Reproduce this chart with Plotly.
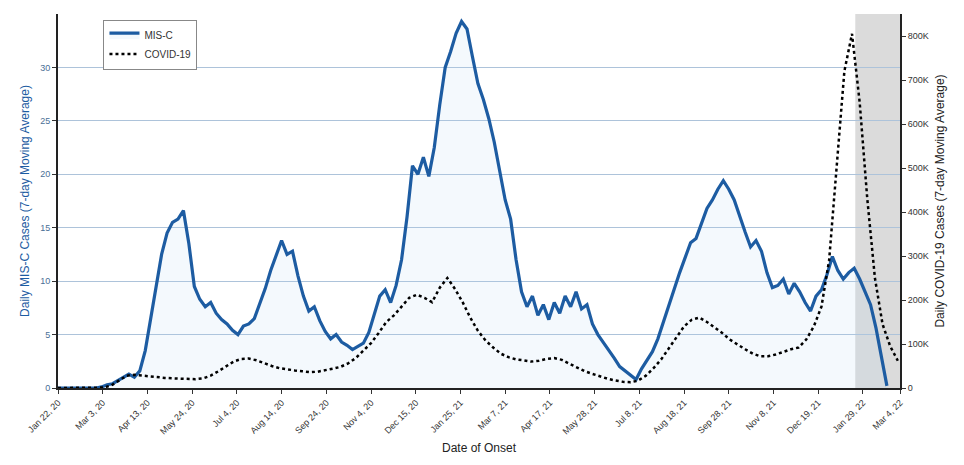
import pandas as pd
import plotly.graph_objects as go

# ---- data -------------------------------------------------------------
START = "2020-01-22"
END = "2022-03-04"
SHADE_START = "2022-01-22"

# MIS-C, 7-day moving average, one value every 5 days from START
misc_step_days = 5
misc_values = [
    0, 0, 0, 0, 0, 0, 0, 0, 0.1, 0.3,
    0.4, 0.7, 1.0, 1.3, 1.0, 1.6, 3.5, 6.5, 9.5, 12.5,
    14.5, 15.5, 15.8, 16.6, 13.5, 9.5, 8.3, 7.6, 8.0, 7.0,
    6.4, 6.0, 5.4, 5.0, 5.8, 6.0, 6.5, 7.8, 9.3, 11.0,
    12.5, 13.8, 12.5, 12.8, 10.5, 8.6, 7.2, 7.6, 6.3, 5.3,
    4.6, 5.0, 4.3, 4.0, 3.6, 3.9, 4.2, 5.2, 6.8, 8.6,
    9.2, 8.0, 9.6, 12.0, 16.0, 20.8, 20.0, 21.6, 19.8, 22.5,
    26.5, 30.0, 31.5, 33.2, 34.3, 33.6, 31.0, 28.5, 27.0, 25.2,
    23.0, 20.2, 17.6, 15.8, 12.0, 9.0, 7.6, 8.6, 6.8, 7.8,
    6.4, 8.0, 7.0, 8.6, 7.6, 9.0, 7.4, 7.8, 6.0, 5.0,
    4.3, 3.6, 2.8, 2.0, 1.6, 1.2, 0.8, 1.8, 2.6, 3.4,
    4.6, 6.2, 7.6, 9.4, 10.8, 12.2, 13.6, 14.0, 15.4, 16.8,
    17.6, 18.6, 19.4, 18.6, 17.6, 16.0, 14.6, 13.2, 13.8, 12.8,
    10.8, 9.4, 9.6, 10.2, 8.8, 9.8, 9.0, 8.0, 7.2, 8.6,
    9.2, 10.6, 12.3, 11.0, 10.2, 10.8, 11.2, 10.2, 9.0, 7.8,
    5.6, 3.0, 0.2,
]

# COVID-19, 7-day moving average (thousands), one value every 7 days from START
covid_step_days = 7
covid_thousands = [
    0, 0, 0, 0, 0, 0.1, 1, 6, 18, 28,
    30, 28, 27, 25, 23, 22, 21, 20, 20, 22,
    28, 38, 50, 60, 66, 67, 63, 56, 50, 45,
    42, 40, 38, 36, 37, 40, 44, 48, 56, 68,
    84, 102, 125, 150, 165, 185, 205, 212, 205, 195,
    228, 250, 225, 195, 160, 130, 108, 92, 78, 70,
    65, 63, 60, 62, 66, 68, 64, 55, 46, 38,
    32, 26, 21, 17, 14, 13, 17, 28, 45, 65,
    90, 115, 140, 155, 160, 150, 138, 125, 110, 98,
    88, 78, 72, 72, 76, 82, 88, 92, 110, 140,
    185, 290, 500, 720, 805, 650, 430, 250, 145, 95,
    62,
]

tick_dates = [
    "2020-01-22", "2020-03-03", "2020-04-13", "2020-05-24", "2020-07-04",
    "2020-08-14", "2020-09-24", "2020-11-04", "2020-12-15", "2021-01-25",
    "2021-03-07", "2021-04-17", "2021-05-28", "2021-07-08", "2021-08-18",
    "2021-09-28", "2021-11-08", "2021-12-19", "2022-01-29", "2022-03-04",
]
tick_labels = [
    "Jan 22, 20", "Mar 3, 20", "Apr 13, 20", "May 24, 20", "Jul 4, 20",
    "Aug 14, 20", "Sep 24, 20", "Nov 4, 20", "Dec 15, 20", "Jan 25, 21",
    "Mar 7, 21", "Apr 17, 21", "May 28, 21", "Jul 8, 21", "Aug 18, 21",
    "Sep 28, 21", "Nov 8, 21", "Dec 19, 21", "Jan 29, 22", "Mar 4, 22",
]

left_ticks = [0, 5, 10, 15, 20, 25, 30]
right_ticks = [0, 100000, 200000, 300000, 400000, 500000, 600000, 700000, 800000]
right_labels = ["0", "100K", "200K", "300K", "400K", "500K", "600K", "700K", "800K"]

# ---- build ------------------------------------------------------------
misc_dates = pd.date_range(START, periods=len(misc_values), freq=f"{misc_step_days}D")
covid_dates = pd.date_range(START, periods=len(covid_thousands), freq=f"{covid_step_days}D")
covid_values = [v * 1000 for v in covid_thousands]

BLUE = "#1d5ca2"
FONT = "Liberation Sans, Arial, sans-serif"

fig = go.Figure()

fig.add_trace(go.Scatter(
    x=misc_dates, y=misc_values, name="MIS-C", mode="lines",
    line=dict(color=BLUE, width=3.2),
    fill="tozeroy", fillcolor="rgba(175,210,238,0.14)",
    yaxis="y",
))
fig.add_trace(go.Scatter(
    x=covid_dates, y=covid_values, name="COVID-19", mode="lines",
    line=dict(color="black", width=2.5, dash="dot"),
    yaxis="y2",
))

# recent period subject to reporting delay
fig.add_vrect(x0=SHADE_START, x1=END, fillcolor="rgba(190,190,190,0.55)",
              line_width=0, layer="below")

fig.update_layout(
    width=964, height=465,
    margin=dict(l=58, r=64, t=14, b=75),
    paper_bgcolor="white", plot_bgcolor="white",
    font=dict(family=FONT, size=10, color="#333"),
    showlegend=True,
    legend=dict(
        x=0.054, y=0.985, xanchor="left", yanchor="top",
        bgcolor="white", bordercolor="#888", borderwidth=1,
        font=dict(size=10, color="#333"),
    ),
    xaxis=dict(
        type="date", range=[START, END],
        tickvals=tick_dates, ticktext=tick_labels, tickangle=-45,
        ticks="outside", ticklen=4, tickcolor="#333",
        showline=True, linecolor="#222", linewidth=2,
        showgrid=False, zeroline=False,
        tickfont=dict(size=9),
        title=dict(text="Date of Onset", font=dict(size=12, color="#222"), standoff=8),
    ),
    yaxis=dict(
        range=[0, 35], tickvals=left_ticks,
        ticks="outside", ticklen=4, tickcolor="#333",
        showline=True, linecolor="#222", linewidth=2,
        showgrid=True, gridcolor="#adc3da", gridwidth=1, zeroline=False,
        tickfont=dict(size=9, color="#4a6f96"),
        title=dict(text="Daily MIS-C Cases (7-day Moving Average)",
                   font=dict(size=12, color=BLUE), standoff=8),
    ),
    yaxis2=dict(
        range=[0, 850000], overlaying="y", side="right",
        tickvals=right_ticks, ticktext=right_labels,
        ticks="outside", ticklen=4, tickcolor="#333",
        showline=True, linecolor="#222", linewidth=2,
        showgrid=False, zeroline=False,
        tickfont=dict(size=9, color="#333"),
        title=dict(text="Daily COVID-19 Cases (7-day Moving Average)",
                   font=dict(size=12, color="#222"), standoff=8),
    ),
)

fig.write_html("out.html")
